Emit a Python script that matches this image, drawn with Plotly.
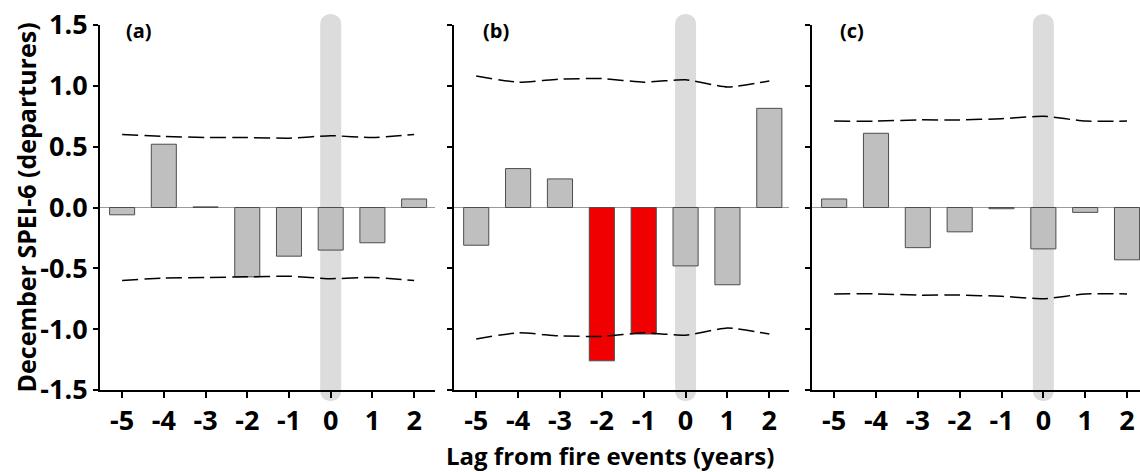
import plotly.graph_objects as go

lags = [-5, -4, -3, -2, -1, 0, 1, 2]
tick_labels = ["-5", "-4", "-3", "-2", "-1", "0", "1", "2"]
y_tick_vals = [-1.5, -1.0, -0.5, 0.0, 0.5, 1.0, 1.5]
y_tick_labels = ["-1.5", "-1.0", "-0.5", "0.0", "0.5", "1.0", "1.5"]

spei_a = [-0.06, 0.52, 0.005, -0.57, -0.40, -0.35, -0.29, 0.07]
upper_a = [0.60, 0.585, 0.575, 0.575, 0.57, 0.59, 0.575, 0.60]
lower_a = [-0.60, -0.58, -0.575, -0.57, -0.565, -0.585, -0.575, -0.60]

spei_b = [-0.31, 0.32, 0.235, -1.26, -1.04, -0.48, -0.635, 0.815]
upper_b = [1.08, 1.03, 1.055, 1.06, 1.03, 1.05, 0.99, 1.04]
lower_b = [-1.08, -1.03, -1.055, -1.06, -1.03, -1.05, -0.99, -1.04]

spei_c = [0.07, 0.61, -0.33, -0.20, -0.01, -0.34, -0.04, -0.43]
upper_c = [0.71, 0.71, 0.72, 0.72, 0.73, 0.75, 0.71, 0.71]
lower_c = [-0.71, -0.71, -0.72, -0.72, -0.73, -0.75, -0.71, -0.71]

panel_names = ["(a)", "(b)", "(c)"]
bar_colors = [
    ["#bfbfbf"] * 8,
    ["#bfbfbf", "#bfbfbf", "#bfbfbf", "#f00000", "#f00000", "#bfbfbf", "#bfbfbf", "#bfbfbf"],
    ["#bfbfbf"] * 8,
]

panels = [(spei_a, upper_a, lower_a), (spei_b, upper_b, lower_b), (spei_c, upper_c, lower_c)]
x_ranges = [[-5.53, 2.50], [-5.53, 2.47], [-5.53, 2.31]]
domains = [[0.0, 0.3221], [0.3404, 0.6625], [0.6846, 1.0]]

FONT = "Open Sans"
TICK_SIZE = 27
fig = go.Figure()

for i, (vals, up, lo) in enumerate(panels):
    sfx = "" if i == 0 else str(i + 1)
    xa, ya = "x" + sfx, "y" + sfx
    fig.add_trace(go.Bar(
        x=lags, y=vals, width=0.6, xaxis=xa, yaxis=ya,
        marker=dict(color=bar_colors[i], line=dict(color="#4d4d4d", width=1)),
        showlegend=False,
    ))
    for band in (up, lo):
        fig.add_trace(go.Scatter(
            x=lags, y=band, mode="lines", xaxis=xa, yaxis=ya,
            line=dict(color="black", width=1.5, dash="16px,6px", shape="spline", smoothing=0.5),
            showlegend=False,
        ))
    xr = x_ranges[i]
    frac0 = (0 - xr[0]) / (xr[1] - xr[0])
    # rounded grey highlight band at lag 0
    r, h = 10.5, 183
    k = 14
    path = (f"M {-r},{-h} L {-r},{h} C {-r},{h + k} {r},{h + k} {r},{h} "
            f"L {r},{-h} C {r},{-h - k} {-r},{-h - k} {-r},{-h} Z")
    fig.add_shape(type="path", path=path, xref=xa + " domain", yref=ya + " domain",
                  xsizemode="pixel", ysizemode="pixel", xanchor=frac0, yanchor=0.5,
                  fillcolor="#dcdcdc", line=dict(width=0), layer="below")
    fig.add_annotation(text=panel_names[i], xref=xa + " domain", yref=ya + " domain",
                       x=[0.072, 0.080, 0.080][i], y=0.984, xanchor="left", yanchor="middle",
                       showarrow=False, font=dict(family=FONT, size=20, color="black", weight="bold"))

    fig.update_layout({
        "xaxis" + sfx: dict(
            domain=domains[i], range=xr, anchor=ya, tickvals=lags, ticktext=tick_labels,
            showline=True, linecolor="black", linewidth=2, ticks="outside", ticklen=6,
            tickwidth=1.5, tickcolor="black", showgrid=False, zeroline=False,
            tickfont=dict(family=FONT, size=TICK_SIZE, color="black", weight="bold"),
        ),
        "yaxis" + sfx: dict(
            domain=[0, 1], range=[-1.5, 1.5], anchor=xa, tickvals=y_tick_vals,
            ticktext=y_tick_labels, showticklabels=(i == 0),
            showline=True, linecolor="black", linewidth=2, ticks="outside", ticklen=5,
            tickwidth=1.5, tickcolor="black", showgrid=False,
            zeroline=True, zerolinecolor="#9a9a9a", zerolinewidth=1,
            tickfont=dict(family=FONT, size=TICK_SIZE, color="black", weight="bold"),
        ),
    })

fig.add_annotation(text="December SPEI-6 (departures)", xref="paper", yref="paper",
                   x=(25 - 100) / 1040, y=0.5, textangle=-90, showarrow=False,
                   xanchor="center", yanchor="middle",
                   font=dict(family=FONT, size=25, color="black", weight="bold"))
fig.add_annotation(text="Lag from fire events (years)", xref="paper", yref="paper",
                   x=(610 - 100) / 1040, y=-(455 - 390) / 365, showarrow=False,
                   xanchor="center", yanchor="middle",
                   font=dict(family=FONT, size=24, color="black", weight="bold"))

fig.update_layout(
    width=1140, height=472, margin=dict(l=100, r=0, t=25, b=82),
    paper_bgcolor="white", plot_bgcolor="rgba(0,0,0,0)", bargap=0.4,
)

fig.write_html("out.html")
